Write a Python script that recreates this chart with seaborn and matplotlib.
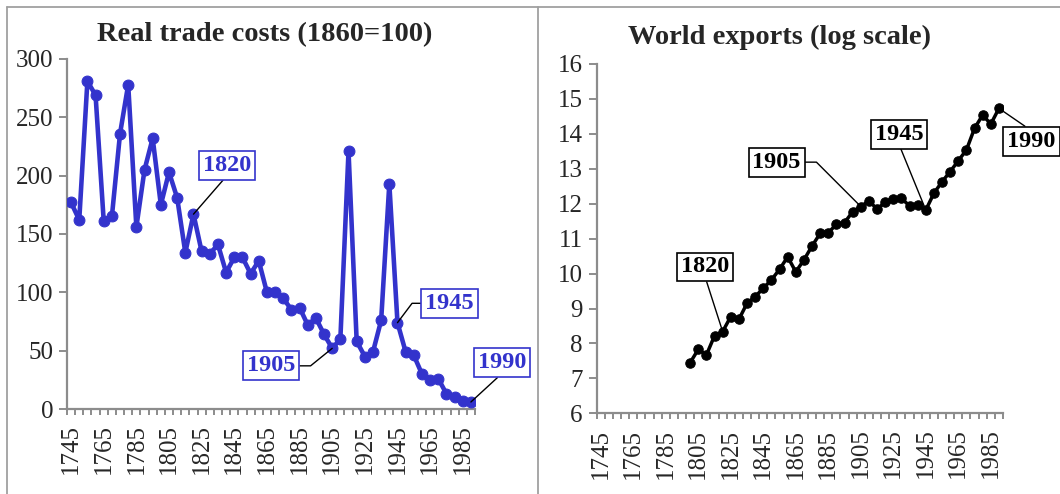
import numpy as np
import pandas as pd
import matplotlib
matplotlib.use("Agg")
import matplotlib.pyplot as plt
import seaborn as sns
from matplotlib.lines import Line2D
from matplotlib.ticker import FixedLocator

# DATA
years = list(range(1745, 1995, 5))
trade_costs = [177, 162, 281, 269, 161, 165, 236, 278, 156, 205,
               232, 175, 203, 181, 134, 167, 135, 133, 141, 117,
               130, 130, 116, 127, 100, 100, 95, 85, 87, 72,
               78, 64, 52, 60, 221, 58, 45, 49, 76, 193,
               74, 49, 46, 30, 25, 26, 13, 10, 7, 6]

export_years = list(range(1800, 1995, 5))
world_exports = [7.45, 7.83, 7.67, 8.22, 8.34, 8.77, 8.69, 9.15, 9.34, 9.58,
                 9.82, 10.12, 10.48, 10.05, 10.39, 10.79, 11.15, 11.17, 11.41, 11.46,
                 11.77, 11.92, 12.08, 11.85, 12.04, 12.13, 12.15, 11.94, 11.96, 11.82,
                 12.30, 12.63, 12.92, 13.23, 13.54, 14.16, 14.54, 14.28, 14.73]

tick_years = list(range(1745, 1990, 20))
label_years = [1820, 1905, 1945, 1990]

BLUE = "#3333CC"
GREY = "#8c8c8c"

sns.set_style("white")
plt.rcParams["font.family"] = ["Liberation Serif", "DejaVu Serif"]

fig = plt.figure(figsize=(10.6, 4.94), dpi=100)
W, H = 1060, 494

def px_axes(x0, x1, ytop, ybot):
    return fig.add_axes([x0 / W, (H - ybot) / H, (x1 - x0) / W, (ybot - ytop) / H])

ax1 = px_axes(67, 475, 59, 409)
ax2 = px_axes(596.7, 1003, 64, 413.3)

sns.lineplot(x=years, y=trade_costs, ax=ax1, color=BLUE, linewidth=3.3,
             marker="o", markersize=7.8, markeredgecolor=BLUE, zorder=3)
sns.lineplot(x=export_years, y=world_exports, ax=ax2, color="black", linewidth=2.5,
             marker="o", markersize=6.8, markeredgecolor="black", zorder=3)

def style_axis(ax, ylim, ystep):
    ax.set_xlim(1742.5, 1992.5)
    ax.set_ylim(*ylim)
    ax.set_yticks(np.arange(ylim[0], ylim[1] + ystep / 2, ystep))
    ax.xaxis.set_major_locator(FixedLocator(tick_years))
    ax.set_xticklabels([str(y) for y in tick_years], rotation=90)
    ax.xaxis.set_minor_locator(FixedLocator(np.arange(1742.5, 1993, 5)))
    for s in ["top", "right"]:
        ax.spines[s].set_visible(False)
    for s in ["left", "bottom"]:
        ax.spines[s].set_color(GREY)
        ax.spines[s].set_linewidth(1.6)
    ax.tick_params(axis="x", which="major", length=0, pad=11, labelsize=18)
    ax.tick_params(axis="x", which="minor", length=4, width=1.4, color=GREY,
                   direction="out", bottom=True)
    ax.tick_params(axis="y", which="major", length=6, width=1.4, color=GREY,
                   direction="out", left=True, pad=4, labelsize=18)
    ax.set_xlabel("")
    ax.set_ylabel("")
    ax.grid(False)
    ax.patch.set_alpha(0)

style_axis(ax1, (0, 300), 50)
style_axis(ax2, (6, 16), 1)

# annotations: (year, text x, text y, relpos, connection)
left_notes = [
    (1820, 1840.5, 209, (0.5, 0), "arc3"),
    (1905, 1867.7, 37, (1, 0.5), "angle,angleA=0,angleB=39,rad=0"),
    (1945, 1976.9, 90.6, (0, 0.5), "angle,angleA=0,angleB=53,rad=0"),
    (1990, 2009.2, 39.7, (0.5, 0), "arc3"),
]
right_notes = [
    (1820, 1809.3, 10.19, (0.5, 0), "arc3"),
    (1905, 1853.2, 13.19, (1, 0.5), "angle,angleA=0,angleB=-45,rad=0"),
    (1945, 1928.6, 13.99, (0.5, 0), "arc3"),
    (1990, 2010.0, 13.79, (0.5, 1), "arc3"),
]

def add_notes(ax, notes, xs, ys, color):
    for yr, tx, ty, rp, cs in notes:
        yv = ys[xs.index(yr)]
        ax.annotate(str(yr), xy=(yr, yv), xytext=(tx, ty), ha="center", va="center",
                    fontsize=17.5, fontweight="bold", color=color,
                    bbox=dict(boxstyle="square,pad=0.16", fc="white", ec=color, lw=1.2),
                    arrowprops=dict(arrowstyle="-", color="black", lw=1.0,
                                    relpos=rp, connectionstyle=cs,
                                    shrinkA=0, shrinkB=0),
                    annotation_clip=False, zorder=5)

add_notes(ax1, left_notes, years, trade_costs, BLUE)
add_notes(ax2, right_notes, export_years, world_exports, "black")

fig.text(265 / W, 1 - 35 / H, "Real trade costs (1860=100)", ha="center", va="center",
         fontsize=20.5, fontweight="bold")
fig.text(780 / W, 1 - 37 / H, "World exports (log scale)", ha="center", va="center",
         fontsize=20.5, fontweight="bold")

# chart area frames
for xd, yd in [([7, 1060], [7, 7]), ([7, 7], [7, 494]), ([538, 538], [7, 494])]:
    fig.add_artist(Line2D([x / W for x in xd], [1 - y / H for y in yd],
                          color="#a0a0a0", lw=1.3, transform=fig.transFigure))

fig.savefig("out.png", dpi=100)
